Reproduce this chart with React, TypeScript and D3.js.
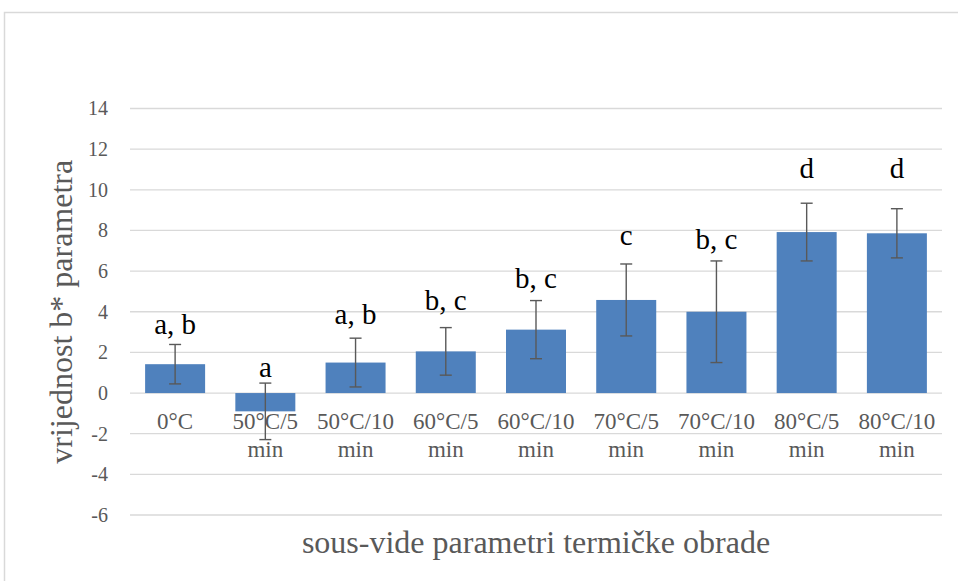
import React from "react";
import * as d3 from "d3";

const categories = ["0°C", "50°C/5 min", "50°C/10 min", "60°C/5 min", "60°C/10 min", "70°C/5 min", "70°C/10 min", "80°C/5 min", "80°C/10 min"];
const catLine1 = ["0°C", "50°C/5", "50°C/10", "60°C/5", "60°C/10", "70°C/5", "70°C/10", "80°C/5", "80°C/10"];
const catLine2 = ["", "min", "min", "min", "min", "min", "min", "min", "min"];
const values = [1.42, -0.9, 1.5, 2.05, 3.12, 4.58, 4.0, 7.92, 7.86];
const errors = [0.97, 1.39, 1.2, 1.17, 1.43, 1.77, 2.5, 1.42, 1.21];
const letters = ["a, b", "a", "a, b", "b, c", "b, c", "c", "b, c", "d", "d"];
const letterValues = [2.92, 0.77, 3.42, 4.1, 5.18, 7.3, 7.1, 10.6, 10.6];
const yTicks = [-6, -4, -2, 0, 2, 4, 6, 8, 10, 12, 14];
const yTitle = "vrijednost b* parametra";
const xTitle = "sous-vide parametri termičke obrade";

const W = 958;
const H = 581;
const left = 130;
const right = 942;
const top = 108.5;
const bottom = 515;
const serif = "'Liberation Serif', 'Times New Roman', serif";

export default function App() {
  const x = d3.scaleBand<string>().domain(categories).range([left, right]).paddingInner(0.335).paddingOuter(0.1675);
  const y = d3.scaleLinear().domain([-6, 14]).range([bottom, top]);
  const bw = x.bandwidth();
  const capW = 12;
  return (
    <svg width={W} height={H} style={{ position: "absolute", left: 0, top: 0, background: "#fff" }}>
      <rect x={0} y={0} width={W} height={H} fill="#fff" />
      <rect x={4.5} y={12.5} width={W + 20} height={H + 20} fill="none" stroke="#d9d9d9" strokeWidth={1.5} />
      {yTicks.map((t) => (
        <g key={t}>
          <line x1={left} x2={right} y1={y(t)} y2={y(t)} stroke="#d9d9d9" strokeWidth={1.3} />
          <text x={108} y={y(t)} dy="0.34em" textAnchor="end" fontFamily={serif} fontSize={20} fill="#595959">
            {t}
          </text>
        </g>
      ))}
      {categories.map((c, i) => {
        const x0 = x(c) as number;
        const cx = x0 + bw / 2;
        const v = values[i];
        const e = errors[i];
        return (
          <g key={c}>
            <rect x={x0} width={bw} y={Math.min(y(v), y(0))} height={Math.abs(y(v) - y(0))} fill="#4f81bd" />
            <g stroke="#595959" strokeWidth={1.4}>
              <line x1={cx} x2={cx} y1={y(v + e)} y2={y(v - e)} />
              <line x1={cx - capW / 2} x2={cx + capW / 2} y1={y(v + e)} y2={y(v + e)} />
              <line x1={cx - capW / 2} x2={cx + capW / 2} y1={y(v - e)} y2={y(v - e)} />
            </g>
            <text x={cx} y={429} textAnchor="middle" fontFamily={serif} fontSize={23} fill="#595959">
              {catLine1[i]}
            </text>
            {catLine2[i] && (
              <text x={cx} y={457} textAnchor="middle" fontFamily={serif} fontSize={23} fill="#595959">
                {catLine2[i]}
              </text>
            )}
            <text x={cx} y={y(letterValues[i])} textAnchor="middle" fontFamily={serif} fontSize={29} fill="#000">
              {letters[i]}
            </text>
          </g>
        );
      })}
      <text transform={`translate(72, ${(top + bottom) / 2}) rotate(-90)`} textAnchor="middle" fontFamily={serif} fontSize={32} fill="#595959">
        {yTitle}
      </text>
      <text x={(left + right) / 2} y={553} textAnchor="middle" fontFamily={serif} fontSize={32} fill="#595959">
        {xTitle}
      </text>
    </svg>
  );
}
